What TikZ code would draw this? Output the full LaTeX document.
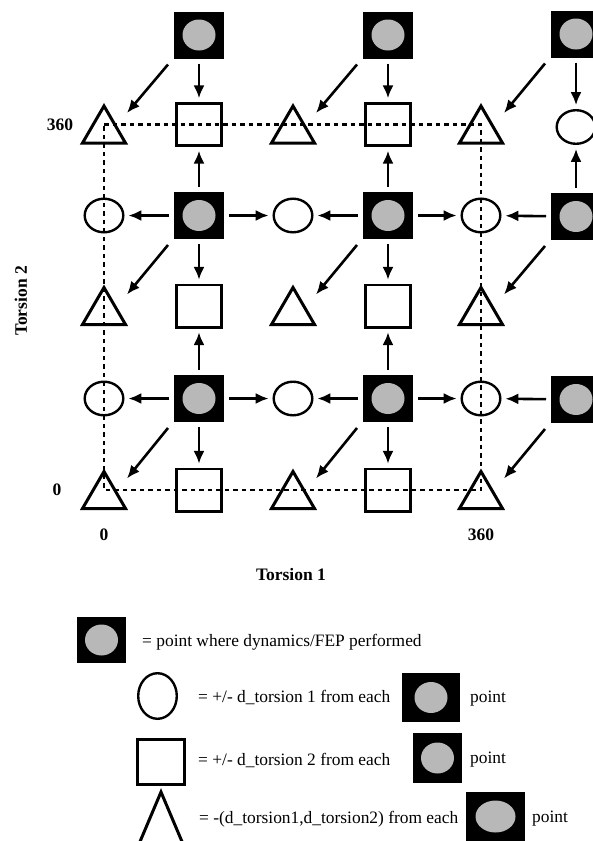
\documentclass[tikz,border=0pt]{standalone}
\usepackage{fontspec}
\setmainfont{Liberation Serif}
\usetikzlibrary{shapes.geometric,arrows.meta,calc}
\definecolor{dotgray}{gray}{0.72}
\newcommand\mytri[3][tribox]{\node[#1] (#2) at (#3) {};
  \draw[triline] (#2.south west) -- (#2.north) -- (#2.south east) -- cycle;}
\begin{document}
\begin{tikzpicture}[x=1pt,y=-1pt,
  fsq/.style={fill=black, draw=none, inner sep=0pt, outer sep=0pt,
    minimum width=50pt, minimum height=47pt,
    path picture={\fill[dotgray] (path picture bounding box.center)
      ellipse [x radius=16.5pt, y radius=15.5pt];}},
  sqr/.style={draw, line width=2.8pt, inner sep=0pt, outer sep=0pt,
    minimum width=45.2pt, minimum height=42.2pt},
  circ/.style={ellipse, draw, line width=2.4pt, inner sep=0pt, outer sep=0pt,
    minimum width=38.6pt, minimum height=33.6pt},
  tribox/.style={inner sep=0pt, outer sep=0pt, minimum width=43pt, minimum height=37pt},
  triline/.style={line width=3pt, line join=miter},
  arr/.style={line width=2.6pt, -{Latex[length=13pt,width=11pt]},
    shorten <=5pt, shorten >=5pt},
  darr/.style={line width=2.6pt, -{Latex[length=13pt,width=11pt]}},
  dashline/.style={line width=2.1pt, dash pattern=on 4.5pt off 4pt},
  lab/.style={font=\fontsize{17.5}{20}\selectfont\bfseries, inner sep=0pt},
  leg/.style={font=\fontsize{17.4}{21}\selectfont, inner sep=0pt, anchor=base west}
]
\useasboundingbox (0,0) rectangle (593,841);

% ---------- grid ----------
% row A
\node[fsq] (A1) at (199,35) {};
\node[fsq] (A3) at (388,35) {};
\node[fsq] (A5) at (576,34) {};
% row B
\mytri{B0}{104,124.5}
\node[sqr] (B1) at (199,124.5) {};
\mytri{B2}{293,124.5}
\node[sqr] (B3) at (388,124.5) {};
\mytri{B4}{481,124.5}
\node[circ] (B5) at (576,127) {};
% row C
\node[circ] (C0) at (104,215.5) {};
\node[fsq] (C1) at (199,215.5) {};
\node[circ] (C2) at (293,215.5) {};
\node[fsq] (C3) at (388,215.5) {};
\node[circ] (C4) at (481,215.5) {};
\node[fsq] (C5) at (576,216.5) {};
% row D
\mytri{D0}{104,306}
\node[sqr] (D1) at (199,306) {};
\mytri{D2}{293,306}
\node[sqr] (D3) at (388,306) {};
\mytri{D4}{481,306}
% row E
\node[circ] (E0) at (104,398.5) {};
\node[fsq] (E1) at (199,398.5) {};
\node[circ] (E2) at (293,398.5) {};
\node[fsq] (E3) at (388,398.5) {};
\node[circ] (E4) at (481,398.5) {};
\node[fsq] (E5) at (576,399.5) {};
% row F
\mytri{F0}{104,490}
\node[sqr] (F1) at (199,490) {};
\mytri{F2}{293,490}
\node[sqr] (F3) at (388,490) {};
\mytri{F4}{481,490}

% dashed frame
\draw[dashline] (B0.center) -- (B4.center) -- (F4.center) -- (F0.center) -- cycle;

% straight arrows
\draw[arr] (A1) -- (B1);
\draw[arr] (A3) -- (B3);
\draw[arr] (A5) -- (B5);
\foreach \s/\t in {C1/B1, C1/C0, C1/C2, C1/D1, C3/B3, C3/C2, C3/C4, C3/D3,
  C5/B5, C5/C4, E1/D1, E1/E0, E1/E2, E1/F1, E3/D3, E3/E2, E3/E4, E3/F3, E5/E4}
  \draw[arr] (\s) -- (\t);
% diagonal arrows
\foreach \s/\t in {A1/B0, A3/B2, A5/B4, C1/D0, C3/D2, C5/D4, E1/F0, E3/F2, E5/F4}
  \draw[darr] ([xshift=-6pt,yshift=-6pt]\s.south west) -- ([xshift=1.5pt,yshift=-7pt]\t.north east);

% axis labels
\node[lab] (y360) at (60,124.5) {360};
\node[lab] (y0) at (57,490) {0};
\node[lab] (x0) at (104,535) {0};
\node[lab] (x360) at (481,535) {360};
\node[lab] (xt) at (291,575) {Torsion 1};
\node[lab, rotate=90] (yt) at (21,301) {Torsion 2};

% ---------- legend ----------
\node[fsq, minimum width=49pt, minimum height=46pt] (L0) at (101.5,640) {};
\node[leg] (T0) at (142,646) {= point where dynamics/FEP performed};

\node[circ, minimum width=38.6pt, minimum height=45.6pt] (L1) at (157.5,696) {};
\node[leg] (T1) at (198,702) {= +/- d\_torsion 1 from each};
\node[fsq, minimum width=58pt, minimum height=49pt] (L1f) at (431,697.5) {};
\node[leg] (P1) at (470,702) {point};

\node[sqr, minimum width=47.2pt, minimum height=45.2pt] (L2) at (161,762) {};
\node[leg] (T2) at (198,765.5) {= +/- d\_torsion 2 from each};
\node[fsq, minimum width=49pt, minimum height=50pt] (L2f) at (437.5,758) {};
\node[leg] (P2) at (470,763) {point};

\mytri[tribox, minimum width=44pt, minimum height=52pt]{L3}{161,818}
\node[leg] (T3) at (199,823.5) {= -(d\_torsion1,d\_torsion2) from each};
\node[fsq, minimum width=59pt, minimum height=49pt,
  path picture={\fill[dotgray] (path picture bounding box.center)
      ellipse [x radius=20pt, y radius=16pt];}] (L3f) at (495.5,816.5) {};
\node[leg] (P3) at (532,822) {point};
\end{tikzpicture}
\end{document}
